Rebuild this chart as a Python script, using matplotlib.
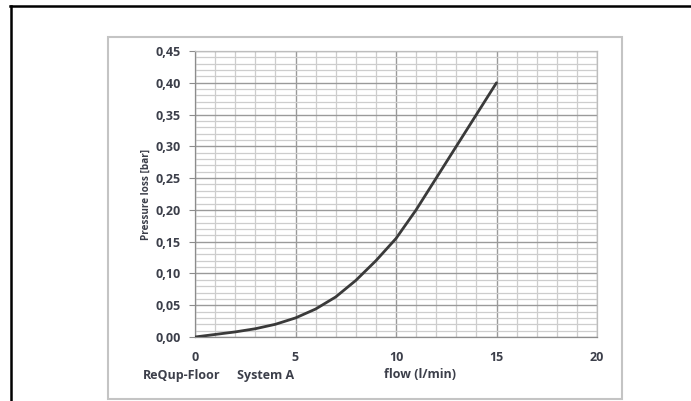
import numpy as np
import matplotlib
matplotlib.use("Agg")
from matplotlib import pyplot as plt
from matplotlib.lines import Line2D
from matplotlib.patches import Rectangle
from matplotlib.ticker import MultipleLocator, FuncFormatter

# flow (l/min) vs pressure loss (bar)
flow = [0, 1, 2, 3, 4, 5, 6, 7, 8, 9, 10, 11, 12, 13, 14, 15]
pressure_loss = [0.0, 0.004, 0.008, 0.013, 0.02, 0.03, 0.044, 0.063, 0.089,
                 0.12, 0.155, 0.2, 0.25, 0.3, 0.35, 0.40]

x_ticks = [0, 5, 10, 15, 20]
y_ticks = [0.0, 0.05, 0.10, 0.15, 0.20, 0.25, 0.30, 0.35, 0.40, 0.45]

label_color = "#3c3f4a"
font = "Open Sans"

fig = plt.figure(figsize=(6.91, 4.01), dpi=100)
W, H = 691, 401

# page frame lines (black)
fig.add_artist(Line2D([10 / W, 1], [1 - 6 / H, 1 - 6 / H], color="black", lw=1.8,
                      transform=fig.transFigure))
fig.add_artist(Line2D([11 / W, 11 / W], [0, 1 - 6 / H], color="black", lw=1.8,
                      transform=fig.transFigure))

# chart box
fig.add_artist(Rectangle((108 / W, 2 / H), (622 - 108) / W, (399 - 37) / H,
                         transform=fig.transFigure, fill=False,
                         edgecolor="#c4c4c4", lw=1.5))

ax = fig.add_axes([195 / W, 1 - 337 / H, (597 - 195) / W, (337 - 51) / H])

ax.plot(flow, pressure_loss, color="#3a3a3a", lw=2.0, solid_capstyle="round", zorder=5)

ax.set_xlim(0, 20)
ax.set_ylim(0, 0.45)
ax.xaxis.set_major_locator(MultipleLocator(5))
ax.xaxis.set_minor_locator(MultipleLocator(1))
ax.yaxis.set_major_locator(MultipleLocator(0.05))
ax.yaxis.set_minor_locator(MultipleLocator(0.01))
ax.set_xticks(x_ticks)
ax.set_yticks(y_ticks)
ax.yaxis.set_major_formatter(FuncFormatter(lambda v, p: f"{v:.2f}".replace(".", ",")))

ax.grid(which="major", color="#9a9a9a", lw=1.0)
ax.grid(which="minor", color="#cdcdcd", lw=0.9)
ax.set_axisbelow(True)

for side in ["top", "right"]:
    ax.spines[side].set_color("#bdbdbd")
    ax.spines[side].set_linewidth(0.9)
for side in ["left", "bottom"]:
    ax.spines[side].set_color("#8c8c8c")
    ax.spines[side].set_linewidth(0.9)

ax.tick_params(axis="y", which="major", direction="out", length=4, width=0.8,
               color="#8c8c8c", pad=6)
ax.tick_params(axis="x", which="major", length=0, pad=10)
ax.tick_params(which="minor", length=0)

for lbl in ax.get_xticklabels() + ax.get_yticklabels():
    lbl.set_fontfamily(font)
    lbl.set_fontweight("bold")
    lbl.set_fontsize(9)
    lbl.set_color(label_color)

ax.set_ylabel("Pressure loss [bar]", fontfamily=font, fontweight="bold",
              fontsize=7.2, color=label_color, labelpad=3)

fig.text(143 / W, 1 - 375 / H, "ReQup-Floor", fontfamily=font,
         fontweight="bold", fontsize=9, color=label_color, va="center", ha="left")
fig.text(237 / W, 1 - 375 / H, "System A", fontfamily=font,
         fontweight="bold", fontsize=9, color=label_color, va="center", ha="left")
fig.text(384 / W, 1 - 375 / H, "flow (l/min)", fontfamily=font,
         fontweight="bold", fontsize=9, color=label_color, va="center", ha="left")

fig.savefig("out.png", dpi=100)
